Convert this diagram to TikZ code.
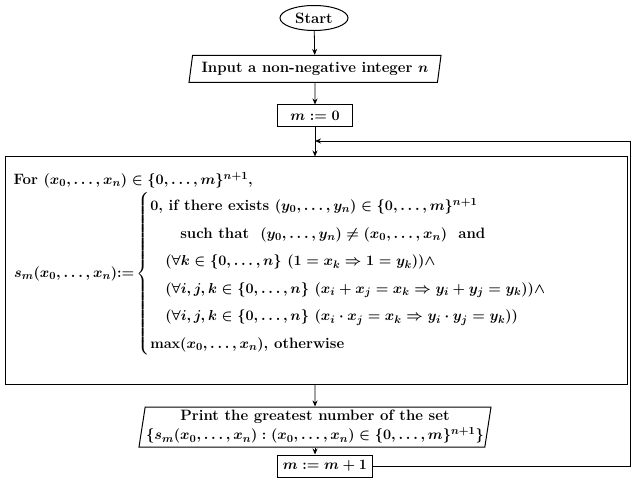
\documentclass[tikz,border=0pt]{standalone}
\usepackage{amsmath,amssymb}
\usetikzlibrary{shapes.geometric,arrows.meta}
\begin{document}
\begin{tikzpicture}[x=1pt,y=-1pt,font=\fontsize{15}{18}\selectfont\bfseries\boldmath,
  box/.style={draw,line width=1pt,inner sep=0pt},
  trap/.style={box,trapezium,trapezium stretches body=true},
  arr/.style={-{Stealth[length=6pt,width=5pt]},line width=0.8pt}]
\useasboundingbox (0,0) rectangle (639,486);
\node[box,ellipse,minimum width=68,minimum height=25] (start) at (314,18) {Start};
\node[trap,trapezium left angle=75,trapezium right angle=105,minimum width=252,minimum height=27] (inp) at (315,69) {Input a non-negative integer $n$};
\node[box,minimum width=75,minimum height=22] (m0) at (315,116) {$m := 0$};
\node[box,minimum width=622,minimum height=227] (big) at (316,270.5) {};
\node[anchor=west] (for) at (10,180) {For $(x_0,\ldots,x_n)\in\{0,\ldots,m\}^{n+1}$,};
\node[anchor=west,inner sep=0pt] (def) at (14,274) {$s_m(x_0,\ldots,x_n){:=}\left\{\renewcommand{\arraystretch}{1.53}\begin{array}{@{}l@{}}
0\text{, if there exists } (y_0,\ldots,y_n)\in\{0,\ldots,m\}^{n+1}\\
\qquad\text{such that } \ (y_0,\ldots,y_n)\neq(x_0,\ldots,x_n)\ \text{ and}\\
\quad(\forall k\in\{0,\ldots,n\}\ (1=x_k\Rightarrow 1=y_k))\wedge\\
\quad(\forall i,j,k\in\{0,\ldots,n\}\ (x_i+x_j=x_k\Rightarrow y_i+y_j=y_k))\wedge\\
\quad(\forall i,j,k\in\{0,\ldots,n\}\ (x_i\cdot x_j=x_k\Rightarrow y_i\cdot y_j=y_k))\\
\max(x_0,\ldots,x_n)\text{, otherwise}
\end{array}\right.$};
\node[trap,trapezium left angle=80,trapezium right angle=100,minimum width=255,minimum height=40,align=center,inner sep=1pt] (pr) at (315,427)
 {Print the greatest number of the set\\[1pt]$\{s_m(x_0,\ldots,x_n):(x_0,\ldots,x_n)\in\{0,\ldots,m\}^{n+1}\}$};
\node[box,minimum width=95,minimum height=22] (m1) at (325,466) {$m := m+1$};
\coordinate (c1) at (630,466);
\coordinate (c2) at (630,141);
\coordinate (c3) at (315,141);
\draw[arr] (start) -- (inp);
\draw[arr] (inp) -- (m0);
\draw[arr] (m0) -- (big.north -| m0);
\draw[arr] (big.south -| pr) -- (pr);
\draw[arr] (pr.south) -- (m1.north -| pr.south);
\draw[arr] (m1.east) -- (c1) -- (c2) -- (c3);
\end{tikzpicture}
\end{document}
